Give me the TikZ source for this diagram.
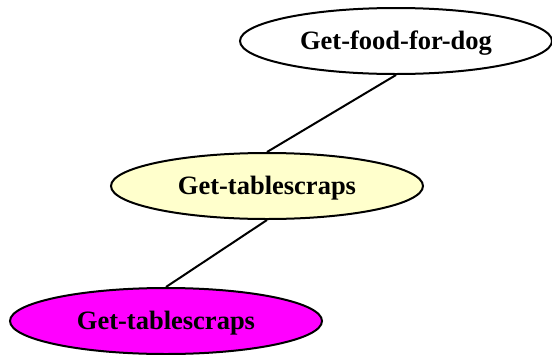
\documentclass[tikz,border=0pt]{standalone}
\usepackage{fontspec}
\setmainfont{Liberation Serif}
\usetikzlibrary{shapes.geometric}
\definecolor{paleyellow}{HTML}{FFFFCC}
\definecolor{goalmagenta}{HTML}{FF00FF}
% lower the label ink slightly while keeping its box size
\newcommand{\goallabel}[1]{\raisebox{-2.5pt}[\height][\depth]{#1}}
\begin{document}
\begin{tikzpicture}[x=1pt,y=-1pt,
  goal/.style={ellipse, draw=black, line width=2pt, minimum width=312pt,
    minimum height=66pt, inner sep=0pt,
    font=\fontsize{26.5}{30}\selectfont\bfseries},
  link/.style={line width=2pt}]
\useasboundingbox (0,0) rectangle (552,354);
% goal tree
\node[goal, fill=white] (food) at (396,41) {\goallabel{Get-food-for-dog}};
\node[goal, fill=paleyellow] (scraps) at (267,186) {\goallabel{Get-tablescraps}};
\node[goal, fill=goalmagenta] (scrapsleaf) at (166,321) {\goallabel{Get-tablescraps}};
\draw[link] (food.south) -- (scraps.north);
\draw[link] (scraps.south) -- (scrapsleaf.north);
\end{tikzpicture}
\end{document}
